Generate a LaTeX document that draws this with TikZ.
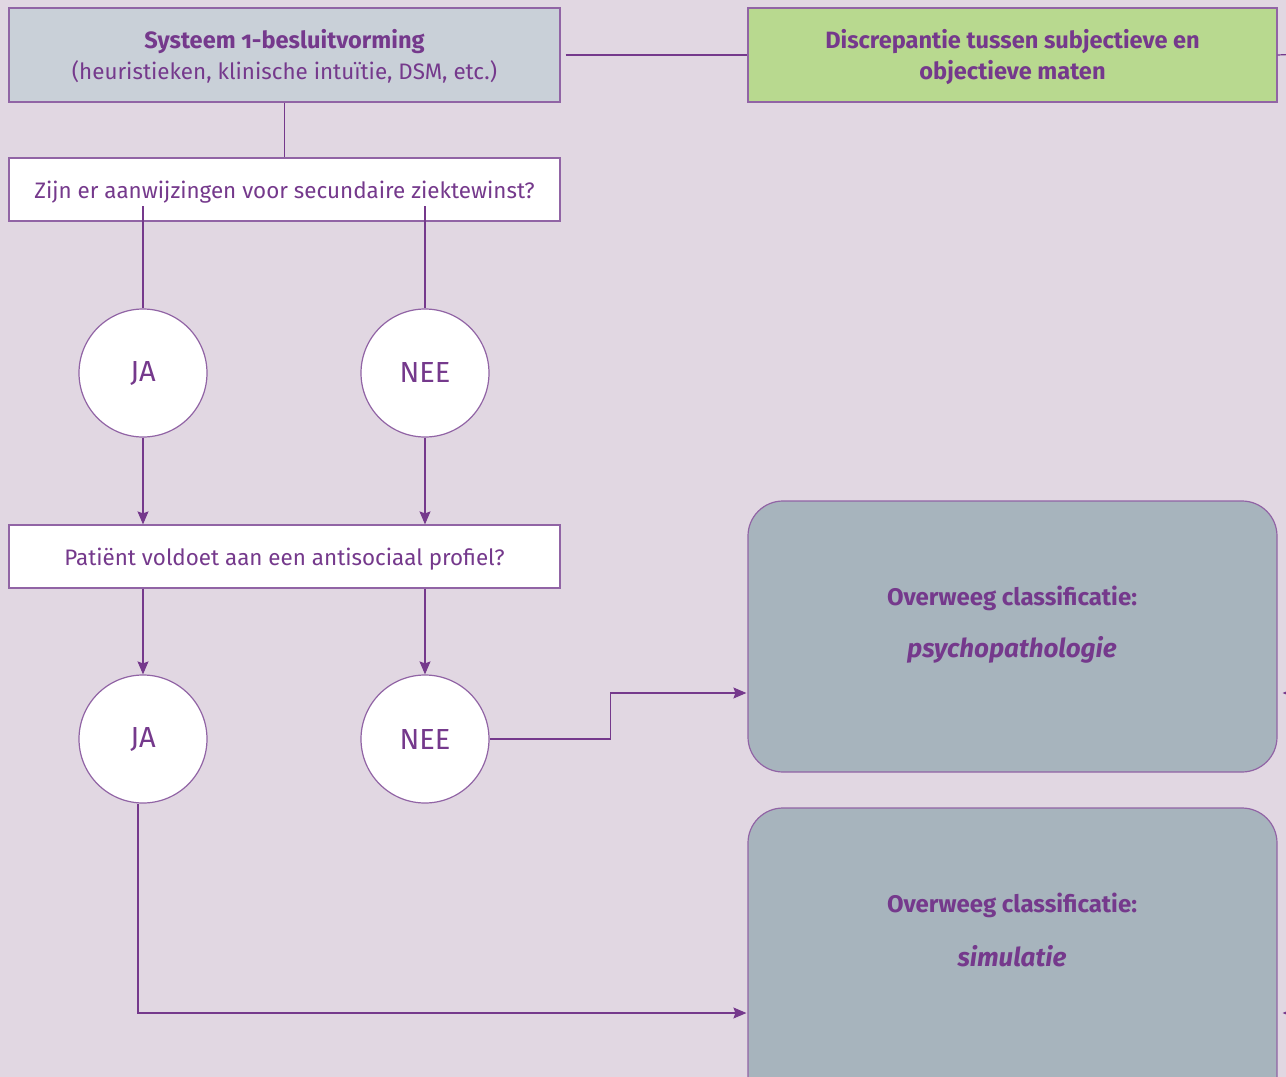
\documentclass[tikz,border=0pt]{standalone}
\usepackage{fontspec}
\setmainfont{Fira Sans}[Numbers=OldStyle]
\usetikzlibrary{arrows.meta}
\definecolor{bg}{RGB}{225,215,226}
\definecolor{pur}{RGB}{117,57,140}
\definecolor{edgec}{RGB}{145,100,165}
\definecolor{greyblue}{RGB}{201,208,216}
\definecolor{grn}{RGB}{184,217,143}
\definecolor{slate}{RGB}{167,180,189}
\begin{document}
\begin{tikzpicture}[x=1pt,y=-1pt,
  box/.style={draw=edgec, line width=1.2pt, inner sep=0pt, align=center, text=pur,
    font=\fontsize{22.4}{31}\selectfont},
  bigbox/.style={draw=edgec, line width=1.2pt, fill=slate, rounded corners=35pt, inner sep=0pt,
    minimum width=529pt},
  circ/.style={circle, draw=edgec, line width=1.2pt, fill=white, minimum size=128pt, inner sep=0pt,
    text=pur, font=\fontsize{29}{32}\selectfont},
  lbl/.style={text=pur, align=center, inner sep=0pt},
  ln/.style={draw=pur, line width=1.2pt},
  arr/.style={ln, -{Stealth[length=13pt,width=11pt,inset=2pt]}}]
\useasboundingbox (0,0) rectangle (1286,1077);
\clip (0,0) rectangle (1286,1077);
\fill[bg] (0,0) rectangle (1286,1077);

\node[box, fill=greyblue, minimum width=551pt, minimum height=94pt] (b1) at (284.5,55) {};
\node[box, fill=grn, minimum width=529pt, minimum height=94pt] (b2) at (1012.5,55) {};
\node[lbl, font=\bfseries\fontsize{23.6}{31}\selectfont] (t1a) at (284.5,41.5) {Systeem 1-besluitvorming};
\node[lbl, font=\fontsize{22.4}{31}\selectfont] (t1b) at (284.5,72) {(heuristieken, klinische intuïtie, DSM, etc.)};
\node[lbl, font=\bfseries\fontsize{23.6}{31}\selectfont] (t2) at (1012.5,57.5)
  {Discrepantie tussen subjectieve en\\objectieve maten};
\node[box, fill=white, minimum width=551pt, minimum height=63pt] (b3) at (284.5,189.5) {};
\node[lbl, font=\fontsize{22.4}{31}\selectfont] (t3) at (284.5,192)
  {Zijn er aanwijzingen voor secundaire ziektewinst?};
\node[box, fill=white, minimum width=551pt, minimum height=63pt] (b4) at (284.5,556.5) {};
\node[lbl, font=\fontsize{22.4}{31}\selectfont] (t4) at (284.5,559)
  {Patiënt voldoet aan een antisociaal profiel?};

\node[circ] (ja1) at (143,373) {JA};
\node[circ] (nee1) at (425,373) {NEE};
\node[circ] (ja2) at (143,739) {JA};
\node[circ] (nee2) at (425,739) {NEE};

\node[bigbox, minimum height=271pt] (b5) at (1012.5,636.5) {};
\node[bigbox, minimum height=320pt] (b6) at (1012.5,968) {};

\node[lbl, font=\bfseries\fontsize{24}{28}\selectfont] (t5a) at (1012,598) {Overweeg classificatie:};
\node[lbl, font=\bfseries\itshape\fontsize{26}{30}\selectfont] (t5b) at (1012,650) {psychopathologie};
\node[lbl, font=\bfseries\fontsize{24}{28}\selectfont] (t6a) at (1012,905) {Overweeg classificatie:};
\node[lbl, font=\bfseries\itshape\fontsize{26}{30}\selectfont] (t6b) at (1012,956.5) {simulatie};

\coordinate (q1) at (143,206);
\coordinate (q2) at (425,206);
\coordinate (r0) at (1300,54);
\coordinate (e1) at (1310,693);
\coordinate (e2) at (1310,1013);

\draw[ln] (b1.south) -- (b3.north);
\draw[ln] ([xshift=5pt]b1.east) -- (b2.west);
\draw[ln] (b2.east) -- (r0);
\draw[ln] (q1) -- (ja1.north);
\draw[ln] (q2) -- (nee1.north);
\draw[arr] (ja1.south) -- (ja1.south |- b4.north);
\draw[arr] (nee1.south) -- (nee1.south |- b4.north);
\draw[arr] (ja2.south |- b4.south) -- (ja2.north);
\draw[arr] (nee2.south |- b4.south) -- (nee2.north);
\draw[arr] (nee2.east) -- ++(121,0) |- ([xshift=-1pt,yshift=-56.5pt]b5.west);
\draw[arr] ([xshift=-5pt]ja2.south) |- ([xshift=-1pt,yshift=-45pt]b6.west);
\draw[arr] (e1) -- ([xshift=5pt,yshift=-56.5pt]b5.east);
\draw[arr] (e2) -- ([xshift=5pt,yshift=-45pt]b6.east);
\end{tikzpicture}
\end{document}
